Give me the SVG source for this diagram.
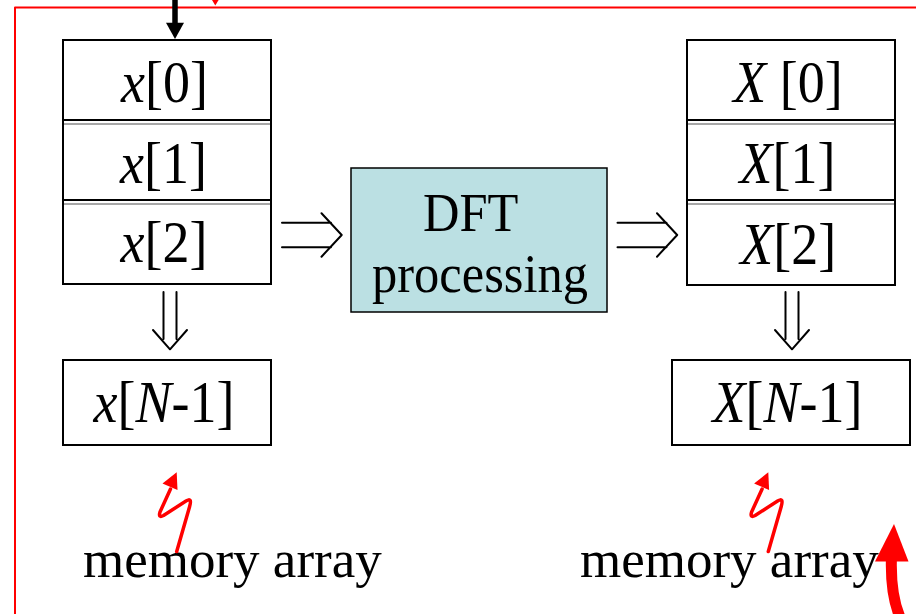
<svg xmlns="http://www.w3.org/2000/svg" xmlns:xlink="http://www.w3.org/1999/xlink" width="916" height="614" viewBox="0 0 916 614">
  <style>
    .box { fill: #ffffff; stroke: #000000; stroke-width: 2; }
    .sep { stroke: #000000; stroke-width: 2; }
    .sep2 { stroke: #8a8a8a; stroke-width: 1.5; }
    .proc { fill: #bbe0e3; stroke: #000000; stroke-width: 1.5; }
    .lbl { font-family: "Liberation Serif", "Times New Roman", serif; font-size: 54px; fill: #000000; text-anchor: middle; }
    .plbl { font-family: "Liberation Serif", "Times New Roman", serif; font-size: 50.5px; fill: #000000; }
    .it { font-style: italic; }
    .big { font-family: "Liberation Serif", "Times New Roman", serif; font-size: 53px; fill: #000000; }
    .dbl { fill: none; stroke: #000000; stroke-width: 2; stroke-linecap: round; stroke-linejoin: round; }
    .red { fill: none; stroke: #ff0000; stroke-linecap: round; stroke-linejoin: round; }
  </style>
  <defs>
    <!-- double-stroke "implies" arrow pointing right -->
    <g id="dbl-right">
      <path class="dbl" d="M282 222.7 H331 M282 247.3 H331 M321.5 213.3 L341.7 235 L321.5 256.7"/>
    </g>
    <!-- double-stroke arrow pointing down -->
    <g id="dbl-down">
      <path class="dbl" d="M163.5 292 V339 M176.5 292 V339 M153 330 L170 349.3 L187 330"/>
    </g>
    <!-- zig-zag pointer with arrowhead -->
    <g id="zig">
      <path class="red" stroke-width="3.5" d="M176.7 551.5 L189.5 507 Q192.5 497 186 501 L163.5 515.5 Q158 518.5 160 512 L170.5 489"/>
      <polygon fill="#ff0000" points="176.7,472.3 162.5,483.5 177.5,490"/>
    </g>
  </defs>

  <!-- red frame -->
  <path class="red" stroke-width="2" stroke-linecap="butt" d="M15 614 V7.5 H916"/>
  <polygon fill="#ff0000" points="212,0 218.6,0 215.3,5.5"/>

  <!-- input memory column -->
  <g id="input-array">
    <rect class="box" x="63" y="40" width="208" height="244"/>
    <line class="sep" x1="63" y1="120" x2="271" y2="120"/>
    <line class="sep2" x1="64" y1="124" x2="270" y2="124"/>
    <line class="sep" x1="63" y1="200" x2="271" y2="200"/>
    <line class="sep2" x1="64" y1="204" x2="270" y2="204"/>
    <text class="lbl" transform="translate(164.5,102) scale(1,1.1)"><tspan class="it">x</tspan>[0]</text>
    <text class="lbl" transform="translate(163.5,182.5) scale(1,1.1)"><tspan class="it">x</tspan>[1]</text>
    <text class="lbl" transform="translate(164,262) scale(1,1.1)"><tspan class="it">x</tspan>[2]</text>
  </g>

  <g id="input-last">
    <rect class="box" x="63" y="360" width="208" height="85"/>
    <text class="lbl" transform="translate(164,422) scale(1,1.1)"><tspan class="it">x</tspan>[<tspan class="it">N</tspan>-1]</text>
  </g>

  <!-- processing block -->
  <g id="dft">
    <rect class="proc" x="351" y="168" width="256" height="144"/>
    <text class="plbl" transform="translate(423,231) scale(1,1.1)">DFT</text>
    <text class="plbl" transform="translate(372,291.5) scale(1,1.1)">processing</text>
  </g>

  <!-- output memory column -->
  <g id="output-array">
    <rect class="box" x="687" y="40" width="208" height="245"/>
    <line class="sep" x1="687" y1="120" x2="895" y2="120"/>
    <line class="sep2" x1="688" y1="124" x2="894" y2="124"/>
    <line class="sep" x1="687" y1="200" x2="895" y2="200"/>
    <line class="sep2" x1="688" y1="204" x2="894" y2="204"/>
    <text class="lbl" transform="translate(788,102) scale(1,1.1)"><tspan class="it">X</tspan> [0]</text>
    <text class="lbl" transform="translate(787.5,182.5) scale(1,1.1)"><tspan class="it">X</tspan>[1]</text>
    <text class="lbl" transform="translate(788.3,264) scale(1,1.1)"><tspan class="it">X</tspan>[2]</text>
  </g>

  <g id="output-last">
    <rect class="box" x="672" y="360" width="238" height="85"/>
    <text class="lbl" transform="translate(787.5,422) scale(1,1.1)"><tspan class="it">X</tspan>[<tspan class="it">N</tspan>-1]</text>
  </g>

  <!-- captions -->
  <g id="caption-left">
    <text class="big" x="83" y="577.3">memory array</text>
  </g>
  <g id="caption-right">
    <text class="big" x="580" y="577.3">memory array</text>
  </g>

  <!-- connectors -->
  <g id="connectors">
    <line x1="175" y1="0" x2="175" y2="24" stroke="#000000" stroke-width="5.5"/>
    <polygon fill="#000000" points="166,22.7 184,22.7 175,39"/>
    <use xlink:href="#dbl-right"/>
    <use xlink:href="#dbl-right" transform="translate(335.5,0)"/>
    <use xlink:href="#dbl-down"/>
    <use xlink:href="#dbl-down" transform="translate(622,0)"/>
    <use xlink:href="#zig"/>
    <use xlink:href="#zig" transform="translate(591.6,0)"/>
    <path class="red" stroke-width="11" stroke-linecap="butt" d="M891.5 556 C890.5 582 893 600 899.5 616"/>
    <polygon fill="#ff0000" points="894,524 875,561.5 908.5,561.5"/>
  </g>
</svg>
